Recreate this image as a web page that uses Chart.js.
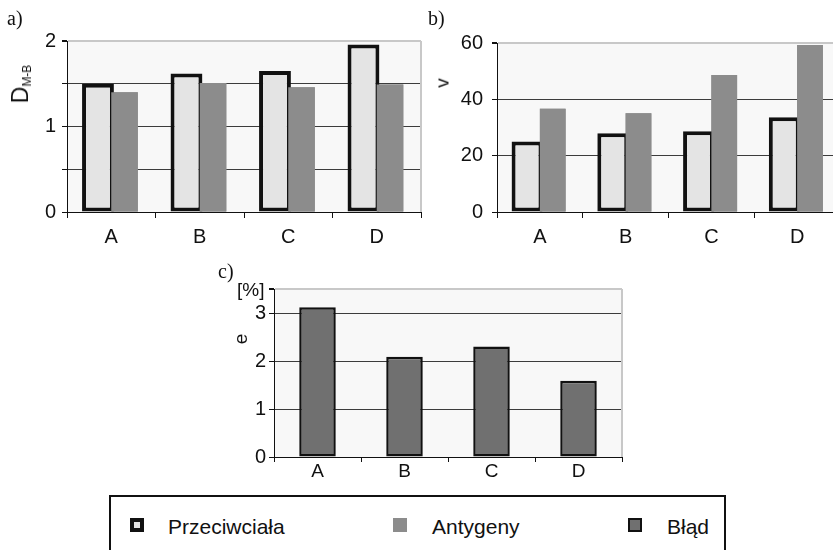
<!DOCTYPE html>
<html>
<head>
<meta charset="utf-8">
<script src="https://cdn.jsdelivr.net/npm/chart.js@4.4.1/dist/chart.umd.min.js"></script>
<style>
html,body{margin:0;padding:0;width:833px;height:550px;overflow:hidden;background:#fff}
canvas{position:absolute}
.tag{position:absolute;font-family:"Liberation Serif","Times New Roman",serif;font-size:20px;color:#111;line-height:1}
.ttl{position:absolute;font-family:"Liberation Sans",Arial,sans-serif;color:#111;white-space:nowrap;line-height:1;transform:translate(-50%,-50%) rotate(-90deg)}
.ttl sub{font-size:12px;vertical-align:-3px}
.unit{position:absolute;font-family:"Liberation Sans",Arial,sans-serif;font-size:19px;color:#111;line-height:1}
#legend{position:absolute;left:109px;top:495px;width:613px;height:80px;border:2px solid #111;box-sizing:content-box}
#legend span{position:absolute;font-family:"Liberation Sans",Arial,sans-serif;font-size:21px;color:#111;line-height:1}
#legend i{position:absolute;width:14px;height:14px;box-sizing:border-box}
</style>
</head>
<body>
<canvas id="chA" width="424" height="250" style="left:0;top:0"></canvas>
<canvas id="chB" width="413" height="250" style="left:430px;top:0"></canvas>
<canvas id="chC" width="415" height="232" style="left:210px;top:255px"></canvas>

<div class="tag" style="left:7px;top:8px">a)</div>
<div class="tag" style="left:428px;top:8px">b)</div>
<div class="tag" style="left:218px;top:261px">c)</div>

<div class="ttl" style="left:21px;top:84px;font-size:23px">D<sub>M-B</sub></div>
<div class="ttl" style="left:442px;top:83px;font-size:19px">v</div>
<div class="ttl" style="left:240px;top:339px;font-size:19px">e</div>
<div class="unit" style="left:237px;top:280px">[%]</div>

<div id="legend">
  <i style="left:19px;top:21px;border:4px solid #111;background:#e4e4e4"></i>
  <span style="left:57px;top:19px">Przeciwciała</span>
  <i style="left:282px;top:21px;background:#8c8c8c"></i>
  <span style="left:321px;top:19px">Antygeny</span>
  <i style="left:517px;top:21px;border:2px solid #111;background:#707070"></i>
  <span style="left:556px;top:19px">Błąd</span>
</div>

<script>
// categories and series
const categories = ['A', 'B', 'C', 'D'];
const dmbPrzeciwciala = [1.50, 1.62, 1.65, 1.96];
const dmbAntygeny = [1.40, 1.51, 1.46, 1.49];
const vPrzeciwciala = [25.0, 28.0, 28.7, 33.6];
const vAntygeny = [36.7, 35.1, 48.6, 59.3];
const bladE = [3.12, 2.09, 2.30, 1.59];

// tick values per panel
const ticksA = [0, 0.5, 1, 1.5, 2];
const ticksB = [0, 20, 40, 60];
const ticksC = [0, 1, 2, 3, 3.5];

const FONT = "'Liberation Sans', Arial, sans-serif";
const C_LIGHT = '#e4e4e4', C_MID = '#8c8c8c', C_DARK = '#707070';

// light plot background + grey right edge
const plotFrame = {
  id: 'plotFrame',
  beforeDraw(chart){
    const {ctx, chartArea:a} = chart;
    ctx.save();
    ctx.fillStyle = '#f8f8f8';
    ctx.fillRect(a.left, a.top, a.right - a.left, a.bottom - a.top);
    ctx.restore();
  },
  beforeDatasetsDraw(chart){
    const {ctx, chartArea:a} = chart;
    ctx.save();
    ctx.strokeStyle = '#c8c8c8';
    ctx.lineWidth = 2;
    ctx.beginPath();
    ctx.moveTo(a.right, a.top); ctx.lineTo(a.right, a.bottom);
    ctx.stroke();
    ctx.restore();
  }
};

// grey bars sit over the outlined ones
const secondOnTop = {
  id: 'secondOnTop',
  afterDatasetsDraw(chart){
    const meta = chart.getDatasetMeta(1);
    if(!meta || meta.hidden) return;
    const {ctx, chartArea:a} = chart;
    ctx.save();
    ctx.beginPath();
    ctx.rect(a.left, a.top, a.right - a.left, a.bottom - a.top);
    ctx.clip();
    meta.controller.draw();
    ctx.restore();
  }
};

function mkOpts(o){
  const top = o.ticks[o.ticks.length - 1];
  return {
    responsive:false, animation:false, events:[],
    layout:{padding:{top:o.padTop, right:o.padRight, left:0, bottom:0}},
    plugins:{legend:{display:false}, tooltip:{enabled:false}},
    scales:{
      x:{
        offset:true,
        grid:{drawOnChartArea:false, offset:true, tickLength:o.xTick, tickColor:'#111', lineWidth:1},
        border:{color:'#111', width:1},
        ticks:{font:{family:FONT, size:o.xFont}, color:'#111', padding:o.xPad},
        afterFit(s){ s.height = o.xH; }
      },
      y:{
        min:0, max:top,
        afterBuildTicks(s){ s.ticks = o.ticks.map(v => ({value:v})); },
        grid:{
          color:c => (c.tick && c.tick.value === top) ? '#c8c8c8' : '#3c3c3c',
          lineWidth:c => (c.tick && c.tick.value === top) ? 2 : 1,
          tickColor:'#111', tickLength:5
        },
        border:{color:'#111', width:1},
        ticks:{
          font:{family:FONT, size:o.yFont}, color:'#111', padding:o.yPad,
          callback:v => o.labels.includes(v) ? String(v) : ''
        },
        afterFit(s){ s.width = o.yW; }
      }
    }
  };
}

function pairSets(p, a){
  return [
    {label:'Przeciwciała', data:p, backgroundColor:C_LIGHT, borderColor:'#111',
     borderWidth:4, borderSkipped:false, barPercentage:1.2, categoryPercentage:0.6},
    {label:'Antygeny', data:a, backgroundColor:C_MID, borderWidth:0,
     barPercentage:1.0, categoryPercentage:0.6}
  ];
}

new Chart(document.getElementById('chA'), {
  type:'bar',
  data:{labels:categories, datasets:pairSets(dmbPrzeciwciala, dmbAntygeny)},
  options:mkOpts({ticks:ticksA, labels:[0,1,2], padTop:41, padRight:3, xH:38, yW:67,
    xFont:20, yFont:20, xPad:7, yPad:6, xTick:6}),
  plugins:[plotFrame, secondOnTop]
});

new Chart(document.getElementById('chB'), {
  type:'bar',
  data:{labels:categories, datasets:pairSets(vPrzeciwciala, vAntygeny)},
  options:mkOpts({ticks:ticksB, labels:ticksB, padTop:43, padRight:3, xH:38, yW:67,
    xFont:20, yFont:20, xPad:7, yPad:9, xTick:6}),
  plugins:[plotFrame, secondOnTop]
});

new Chart(document.getElementById('chC'), {
  type:'bar',
  data:{labels:categories, datasets:[
    {label:'Błąd', data:bladE, backgroundColor:C_DARK, borderColor:'#111',
     borderWidth:2.5, borderSkipped:false, barPercentage:0.7, categoryPercentage:0.6}
  ]},
  options:mkOpts({ticks:ticksC, labels:[0,1,2,3], padTop:34, padRight:3, xH:30, yW:64,
    xFont:19, yFont:20, xPad:-2, yPad:3, xTick:5}),
  plugins:[plotFrame]
});
</script>
</body>
</html>
